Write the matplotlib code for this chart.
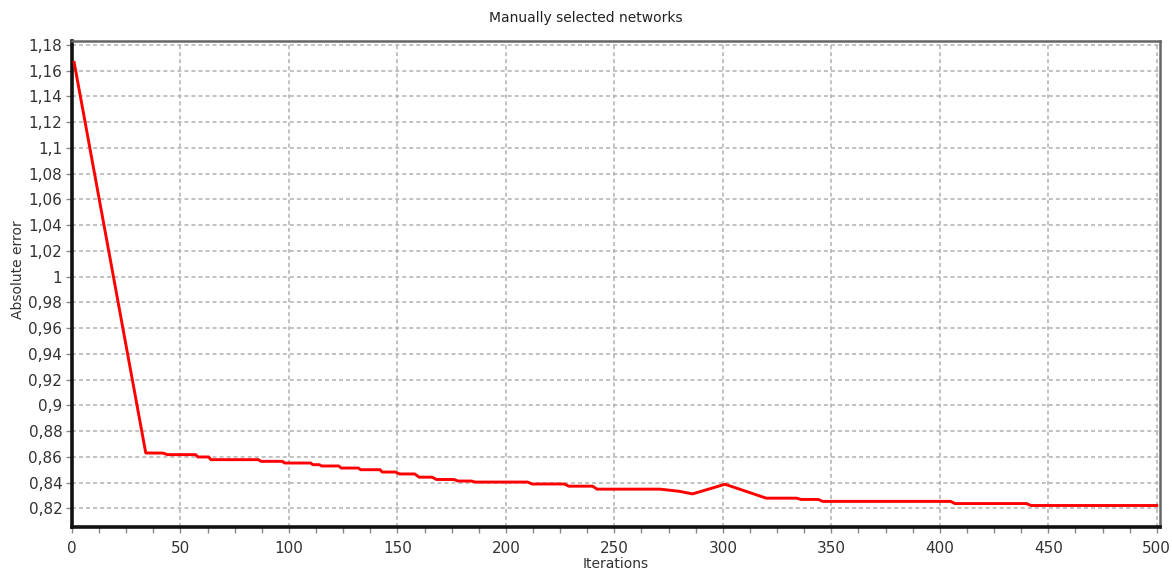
import matplotlib
matplotlib.use("Agg")
import matplotlib.pyplot as plt
from matplotlib.ticker import MultipleLocator

# ---- data ----
iterations = [1, 34, 42, 44, 57, 58, 63, 64, 86, 87, 97, 98, 110, 111, 114, 115,
              123, 124, 132, 133, 142, 143, 149, 151, 158, 160, 166, 168, 176, 178,
              184, 186, 210, 212, 227, 229, 240, 242, 271, 280, 286, 301, 320, 334,
              336, 344, 346, 405, 407, 440, 442, 500]
abs_error = [1.1664, 0.8631, 0.8630, 0.8618, 0.8618, 0.8600, 0.8600, 0.8579, 0.8579, 0.8566,
             0.8566, 0.8553, 0.8553, 0.8540, 0.8540, 0.8530, 0.8530, 0.8514, 0.8514, 0.8501,
             0.8501, 0.8483, 0.8483, 0.8468, 0.8468, 0.8443, 0.8443, 0.8425, 0.8425, 0.8413,
             0.8413, 0.8405, 0.8405, 0.8390, 0.8390, 0.8373, 0.8373, 0.8350, 0.8350, 0.8333,
             0.8313, 0.8388, 0.8280, 0.8280, 0.8270, 0.8270, 0.8255, 0.8255, 0.8238, 0.8238,
             0.8223, 0.8223]

x_ticks = [0, 50, 100, 150, 200, 250, 300, 350, 400, 450, 500]
y_ticks = [0.82, 0.84, 0.86, 0.88, 0.90, 0.92, 0.94, 0.96, 0.98, 1.00,
           1.02, 1.04, 1.06, 1.08, 1.10, 1.12, 1.14, 1.16, 1.18]
y_tick_labels = ["0,82", "0,84", "0,86", "0,88", "0,9", "0,92", "0,94", "0,96", "0,98", "1",
                 "1,02", "1,04", "1,06", "1,08", "1,1", "1,12", "1,14", "1,16", "1,18"]

title = "Manually selected networks"
x_label = "Iterations"
y_label = "Absolute error"

# ---- figure ----
plt.rcParams['font.family'] = ['DejaVu Sans']
fig = plt.figure(figsize=(11.72, 5.83), dpi=100)
ax = fig.add_axes([72/1172, 1 - 527/583, (1160 - 72)/1172, (527 - 41)/583])

ax.plot(iterations, abs_error, color="#ff0000", lw=2.1, solid_joinstyle="round", zorder=3)

ax.set_xlim(0, 501.5)
ax.set_ylim(0.8056, 1.1831)

ax.set_xticks(x_ticks)
ax.set_xticklabels([str(v) for v in x_ticks])
ax.xaxis.set_minor_locator(MultipleLocator(12.5))
ax.set_yticks(y_ticks)
ax.set_yticklabels(y_tick_labels)

ax.tick_params(axis="both", which="major", direction="out", length=4, width=1,
               color="#888888", labelsize=11, labelcolor="#333333", pad=3)
ax.tick_params(axis="x", which="minor", direction="out", length=4, width=1, color="#888888")
ax.tick_params(axis="x", which="major", pad=6)

ax.grid(True, which="major", color="#b0b0b0", linestyle=(0, (2.6, 2.0)), linewidth=1.1)

for side in ("left", "bottom"):
    ax.spines[side].set_color("#111111")
    ax.spines[side].set_linewidth(2.6)
for side in ("top", "right"):
    ax.spines[side].set_color("#666666")
    ax.spines[side].set_linewidth(1.8)

fig.text(0.5, 1 - 18/583, title, ha="center", va="center", fontsize=10, color="#222222")
ax.set_xlabel(x_label, fontsize=10, color="#333333", labelpad=1)
fig.text(18/1172, 1 - 270/583, y_label, ha="center", va="center", rotation=90,
         fontsize=10, color="#333333")

fig.savefig("out.png", dpi=100)
